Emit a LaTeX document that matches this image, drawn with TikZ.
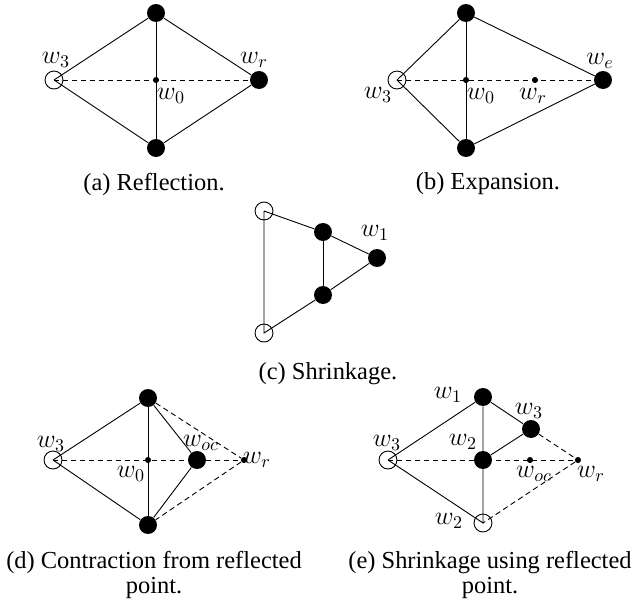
\documentclass[tikz,border=0pt]{standalone}
\usepackage{fontspec}
\setmainfont{Liberation Serif}
\tikzset{
  fullpt/.style={circle, fill=black, inner sep=0pt, minimum size=10pt},
  openpt/.style={circle, draw, line width=0.5pt, inner sep=0pt, minimum size=10pt},
  dotpt/.style={circle, fill=black, inner sep=0pt, minimum size=3.4pt},
  lbl/.style={inner sep=0pt, font=\fontsize{14}{16}\selectfont},
  capt/.style={inner sep=0pt, align=center, font=\fontsize{13.6}{13.9}\selectfont},
  ln/.style={line width=0.5pt},
  dln/.style={line width=0.5pt, dashed, dash pattern=on 3pt off 2pt}
}
\begin{document}
\begin{tikzpicture}[x=0.556pt, y=-0.556pt]
  \useasboundingbox (0,0) rectangle (631,603);
  % (a) reflection
  \node[fullpt] (a1) at (156,13) {};
  \node[openpt] (a3) at (54,80) {};
  \node[dotpt] (a0) at (156,80) {};
  \node[fullpt] (ar) at (259,80) {};
  \node[fullpt] (a2) at (156,148) {};
  \draw[ln] (a3.center) -- (a1) -- (ar) -- (a2) -- (a3.center);
  \draw[ln] (a1) -- (a2);
  \draw[dln] (a3.center) -- (ar);
  \node[lbl] (la3) at (56,60) {$w_3$};
  \node[lbl] (lar) at (254,60) {$w_r$};
  \node[lbl] (la0) at (171,96) {$w_0$};
  \node[capt] (capa) at (154,184) {(a) Reflection.};
  % (b) expansion
  \node[fullpt] (b1) at (466,13) {};
  \node[openpt] (b3) at (397,80) {};
  \node[dotpt] (b0) at (466,80) {};
  \node[dotpt] (br) at (535,80) {};
  \node[fullpt] (be) at (603,80) {};
  \node[fullpt] (b2) at (466,148) {};
  \draw[ln] (b3.center) -- (b1) -- (be) -- (b2) -- (b3.center);
  \draw[ln] (b1) -- (b2);
  \draw[dln] (b3.center) -- (be);
  \node[lbl] (lb3) at (378,95) {$w_3$};
  \node[lbl] (lb0) at (481,96) {$w_0$};
  \node[lbl] (lbr) at (533,96) {$w_r$};
  \node[lbl] (lbe) at (600,61) {$w_e$};
  \node[capt] (capb) at (488,184) {(b) Expansion.};
  % (c) shrinkage
  \node[openpt] (c3) at (264,211) {};
  \node[openpt] (c4) at (264,333) {};
  \node[fullpt] (c1) at (323,232) {};
  \node[fullpt] (c2) at (323,295) {};
  \node[fullpt] (cw) at (377,258) {};
  \draw[ln] (c3.center) -- (c4.center) -- (c2) -- (cw) -- (c1) -- (c3.center);
  \draw[ln] (c1) -- (c2);
  \node[lbl] (lc1) at (375,233) {$w_1$};
  \node[capt] (capc) at (328,374) {(c) Shrinkage.};
  % (d) contraction from reflected point
  \node[fullpt] (d1) at (148,398) {};
  \node[openpt] (d3) at (53,460) {};
  \node[dotpt] (d0) at (148,460) {};
  \node[fullpt] (dc) at (197,460) {};
  \node[dotpt] (dr) at (244,460) {};
  \node[fullpt] (d2) at (148,525) {};
  \draw[ln] (d3.center) -- (d1) -- (dc) -- (d2) -- (d3.center);
  \draw[ln] (d1) -- (d2);
  \draw[dln] (d3.center) -- (dr);
  \draw[dln] (d1) -- (dr) -- (d2);
  \node[lbl] (ld3) at (51,444) {$w_3$};
  \node[lbl] (ld0) at (131,474) {$w_0$};
  \node[lbl] (ldc) at (201,443) {$w_{oc}$};
  \node[lbl] (ldr) at (257,460) {$w_r$};
  \node[capt] (capd) at (154,575) {(d) Contraction from reflected\\point.};
  % (e) shrinkage using reflected point
  \node[openpt] (e3) at (388,460) {};
  \node[fullpt] (e1) at (483,397) {};
  \node[fullpt] (en) at (531,429) {};
  \node[fullpt] (e2) at (483,460) {};
  \node[dotpt] (ec) at (530,460) {};
  \node[dotpt] (er) at (578,460) {};
  \node[openpt] (e4) at (483,523) {};
  \draw[ln] (e3.center) -- (e1) -- (en) -- (e2);
  \draw[ln] (e3.center) -- (e4.center) -- (e1);
  \draw[dln] (e3.center) -- (er);
  \draw[dln] (en) -- (er) -- (e4.center);
  \node[lbl] (le1) at (448,395) {$w_1$};
  \node[lbl] (len) at (529,411) {$w_3$};
  \node[lbl] (le3) at (387,443) {$w_3$};
  \node[lbl] (le2) at (463,442) {$w_2$};
  \node[lbl] (lec) at (534,474) {$w_{oc}$};
  \node[lbl] (ler) at (591,474) {$w_r$};
  \node[lbl] (le4) at (449,521) {$w_2$};
  \node[capt] (cape) at (490,575) {(e) Shrinkage using reflected\\point.};
\end{tikzpicture}
\end{document}
